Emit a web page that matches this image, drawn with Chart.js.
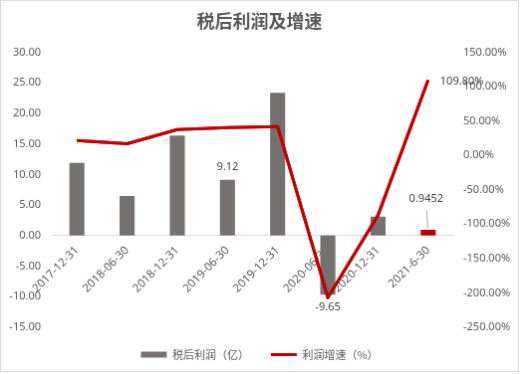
<!DOCTYPE html>
<html>
<head>
<meta charset="utf-8">
<script src="https://cdn.jsdelivr.net/npm/chart.js@4.4.0/dist/chart.umd.min.js"></script>
<style>
    body { margin: 0; background: #fff; }
    canvas { display: block; border: 1px solid #d9d9d9; }
</style>
</head>
<body>
<canvas id="chart" width="519" height="372"></canvas>
<script>
// 报告期
const periods = ['2017-12-31', '2018-06-30', '2018-12-31', '2019-06-30', '2019-12-31', '2020-06-30', '2020-12-31', '2021-6-30'];
// 税后利润（亿）
const profit = [11.9, 6.5, 16.4, 9.12, 23.4, -9.65, 3.1, 0.9452];
// 利润增速（%）
const growth = [21.8, 17.0, 37.7, 40.6, 42.0, -207.0, -87.0, 109.8];

// 轴范围
const profitAxis = { min: -15, max: 30, step: 5 };
const growthAxis = { min: -250, max: 150, step: 50 };

// 显示数据标签的点
const labeledBars = [3, 5, 7];
const labeledGrowth = [7];

const GRAY = '#767171';
const RED = '#C00000';
const TEXT = '#595959';
const FONT = '"Noto Sans", "Noto Sans CJK SC", sans-serif';

Chart.defaults.font.family = FONT;
Chart.defaults.color = TEXT;

// 数据标签（Excel 风格）
const valueLabels = {
    id: 'valueLabels',
    afterDatasetsDraw(chart) {
        const ctx = chart.ctx;
        const bars = chart.getDatasetMeta(0).data;
        const points = chart.getDatasetMeta(1).data;
        ctx.save();
        ctx.font = '11px ' + FONT;
        ctx.fillStyle = '#404040';
        ctx.textBaseline = 'middle';
        ctx.textAlign = 'center';

        labeledBars.forEach(i => {
            const bar = bars[i];
            const v = profit[i];
            if (i === profit.length - 1) {
                // 小数值标签带引导线
                const lx = bar.x - 2;
                const ly = bar.y - 31;
                ctx.fillText(String(v), lx, ly);
                ctx.strokeStyle = '#a6a6a6';
                ctx.lineWidth = 1;
                ctx.beginPath();
                ctx.moveTo(lx + 0.5, ly + 12);
                ctx.lineTo(lx + 1.5, bar.y - 2);
                ctx.stroke();
            } else if (v >= 0) {
                ctx.fillText(v.toFixed(2), bar.x, bar.y - 13);
            } else {
                ctx.fillText(v.toFixed(2), bar.x, bar.y + 13);
            }
        });

        ctx.textAlign = 'left';
        labeledGrowth.forEach(i => {
            const p = points[i];
            ctx.fillText(growth[i].toFixed(2) + '%', p.x + 12, p.y + 1);
        });
        ctx.restore();
    },
    // 类目标签压在柱子上，折线再压在标签上
    afterDraw(chart) {
        chart.getDatasetMeta(1).controller.draw();
    }
};

new Chart(document.getElementById('chart'), {
    type: 'bar',
    data: {
        labels: periods,
        datasets: [
            {
                type: 'bar',
                label: '税后利润（亿）',
                data: profit,
                yAxisID: 'y',
                backgroundColor: profit.map((v, i) => i === profit.length - 1 ? RED : GRAY),
                categoryPercentage: 1,
                barPercentage: 0.3,
                pointStyle: 'rect',
                order: 1
            },
            {
                type: 'line',
                label: '利润增速（%）',
                data: growth,
                yAxisID: 'y1',
                borderColor: RED,
                backgroundColor: RED,
                borderWidth: 3,
                borderJoinStyle: 'round',
                pointRadius: 0,
                pointStyle: 'line',
                tension: 0,
                order: 0
            }
        ]
    },
    options: {
        responsive: false,
        animation: false,
        layout: { padding: { top: 0, bottom: 1, left: 0, right: 0 } },
        plugins: {
            title: {
                display: true,
                text: '税后利润及增速',
                color: TEXT,
                font: { size: 18, weight: 'bold', family: '"Noto Sans CJK SC", sans-serif' },
                padding: { top: 9, bottom: 21 }
            },
            legend: {
                position: 'bottom',
                labels: {
                    usePointStyle: true,
                    pointStyleWidth: 26,
                    boxHeight: 6,
                    padding: 22,
                    color: TEXT,
                    font: { size: 11, family: '"Noto Sans CJK SC", sans-serif' },
                    sort: (a, b) => a.datasetIndex - b.datasetIndex
                }
            },
            tooltip: { enabled: false }
        },
        scales: {
            x: {
                position: { y: 0 },
                z: 1,
                grid: { display: false, drawTicks: false },
                border: { display: true, color: '#d9d9d9' },
                ticks: {
                    autoSkip: false,
                    minRotation: 45,
                    maxRotation: 45,
                    padding: 8,
                    font: { size: 11.5 }
                }
            },
            y: {
                position: 'left',
                min: profitAxis.min,
                max: profitAxis.max,
                grid: { display: false, drawTicks: false },
                border: { display: false },
                ticks: {
                    stepSize: profitAxis.step,
                    padding: 11,
                    font: { size: 11 },
                    callback: v => v.toFixed(2)
                },
                afterFit: scale => { scale.width = 51; }
            },
            y1: {
                position: 'right',
                min: growthAxis.min,
                max: growthAxis.max,
                grid: { display: false, drawTicks: false },
                border: { display: false },
                ticks: {
                    stepSize: growthAxis.step,
                    padding: 10,
                    font: { size: 11 },
                    callback: v => v.toFixed(2) + '%'
                },
                afterFit: scale => { scale.width = 65; }
            }
        }
    },
    plugins: [valueLabels]
});
</script>
</body>
</html>
